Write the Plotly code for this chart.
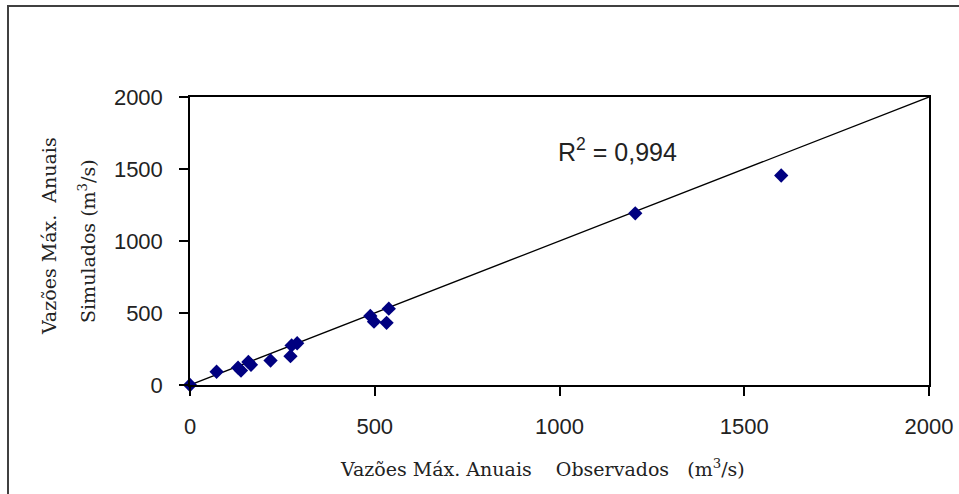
import plotly.graph_objects as go

# Observed vs simulated annual maximum discharges (m3/s)
observados = [0, 72, 130, 138, 158, 165, 218, 272, 275, 290, 488, 498, 532, 538, 1205, 1600]
simulados = [0, 92, 120, 100, 160, 140, 170, 200, 275, 290, 480, 440, 432, 530, 1192, 1455]

# 1:1 reference line
linha_x = [0, 2000]
linha_y = [0, 2000]

tick_vals = [0, 500, 1000, 1500, 2000]
tick_text = ["0", "500", "1000", "1500", "2000"]

r2_text = "R<sup>2</sup> = 0,994"
x_title = "Vazões Máx. Anuais\u00a0\u00a0\u00a0\u00a0Observados\u00a0\u00a0\u00a0(m<sup>3</sup>/s)"
y_title_1 = "Vazões Máx.\u00a0\u00a0Anuais"
y_title_2 = "Simulados (m<sup>3</sup>/s)"

fig = go.Figure()
fig.add_trace(go.Scatter(x=linha_x, y=linha_y, mode="lines",
                         line=dict(color="black", width=1.3), showlegend=False,
                         hoverinfo="skip"))
fig.add_trace(go.Scatter(x=observados, y=simulados, mode="markers",
                         marker=dict(symbol="diamond", size=11, color="#000080",
                                     line=dict(width=0)),
                         cliponaxis=False, showlegend=False))

axis_common = dict(range=[0, 2000], tickvals=tick_vals, ticktext=tick_text,
                   ticks="outside", ticklen=9, tickwidth=1.5, tickcolor="black",
                   showline=True, linecolor="black", linewidth=1.5, mirror=True,
                   showgrid=False, zeroline=False, automargin=False,
                   tickfont=dict(family="Liberation Sans", size=22, color="#222"))

fig.update_xaxes(**axis_common, ticklabelstandoff=12)
fig.update_yaxes(**axis_common, ticklabelstandoff=12)

serif = dict(family="DejaVu Serif", size=19, color="#222")

fig.update_layout(
    width=959, height=494,
    margin=dict(l=190, r=30, t=97, b=109, autoexpand=False),
    paper_bgcolor="white", plot_bgcolor="white",
    annotations=[
        dict(text=r2_text, x=1156, y=1632, xref="x", yref="y", showarrow=False,
             font=dict(family="Liberation Sans", size=25, color="#222")),
        dict(text=x_title, x=0.477, y=-0.288, xref="paper", yref="paper",
             showarrow=False, font=serif, xanchor="center", yanchor="middle"),
        dict(text=y_title_1, x=-0.1908, y=0.517, xref="paper", yref="paper",
             showarrow=False, font=serif, textangle=-90,
             xanchor="center", yanchor="middle"),
        dict(text=y_title_2, x=-0.1394, y=0.50, xref="paper", yref="paper",
             showarrow=False, font=serif, textangle=-90,
             xanchor="center", yanchor="middle"),
    ],
    shapes=[
        dict(type="rect", xref="paper", yref="paper",
             x0=(8 - 190) / 739, x1=(975 - 190) / 739,
             y0=(385 - 520) / 288, y1=(385 - 6) / 288,
             line=dict(color="#404040", width=2), fillcolor="rgba(0,0,0,0)",
             layer="below"),
    ],
)

fig.write_html("out.html")
